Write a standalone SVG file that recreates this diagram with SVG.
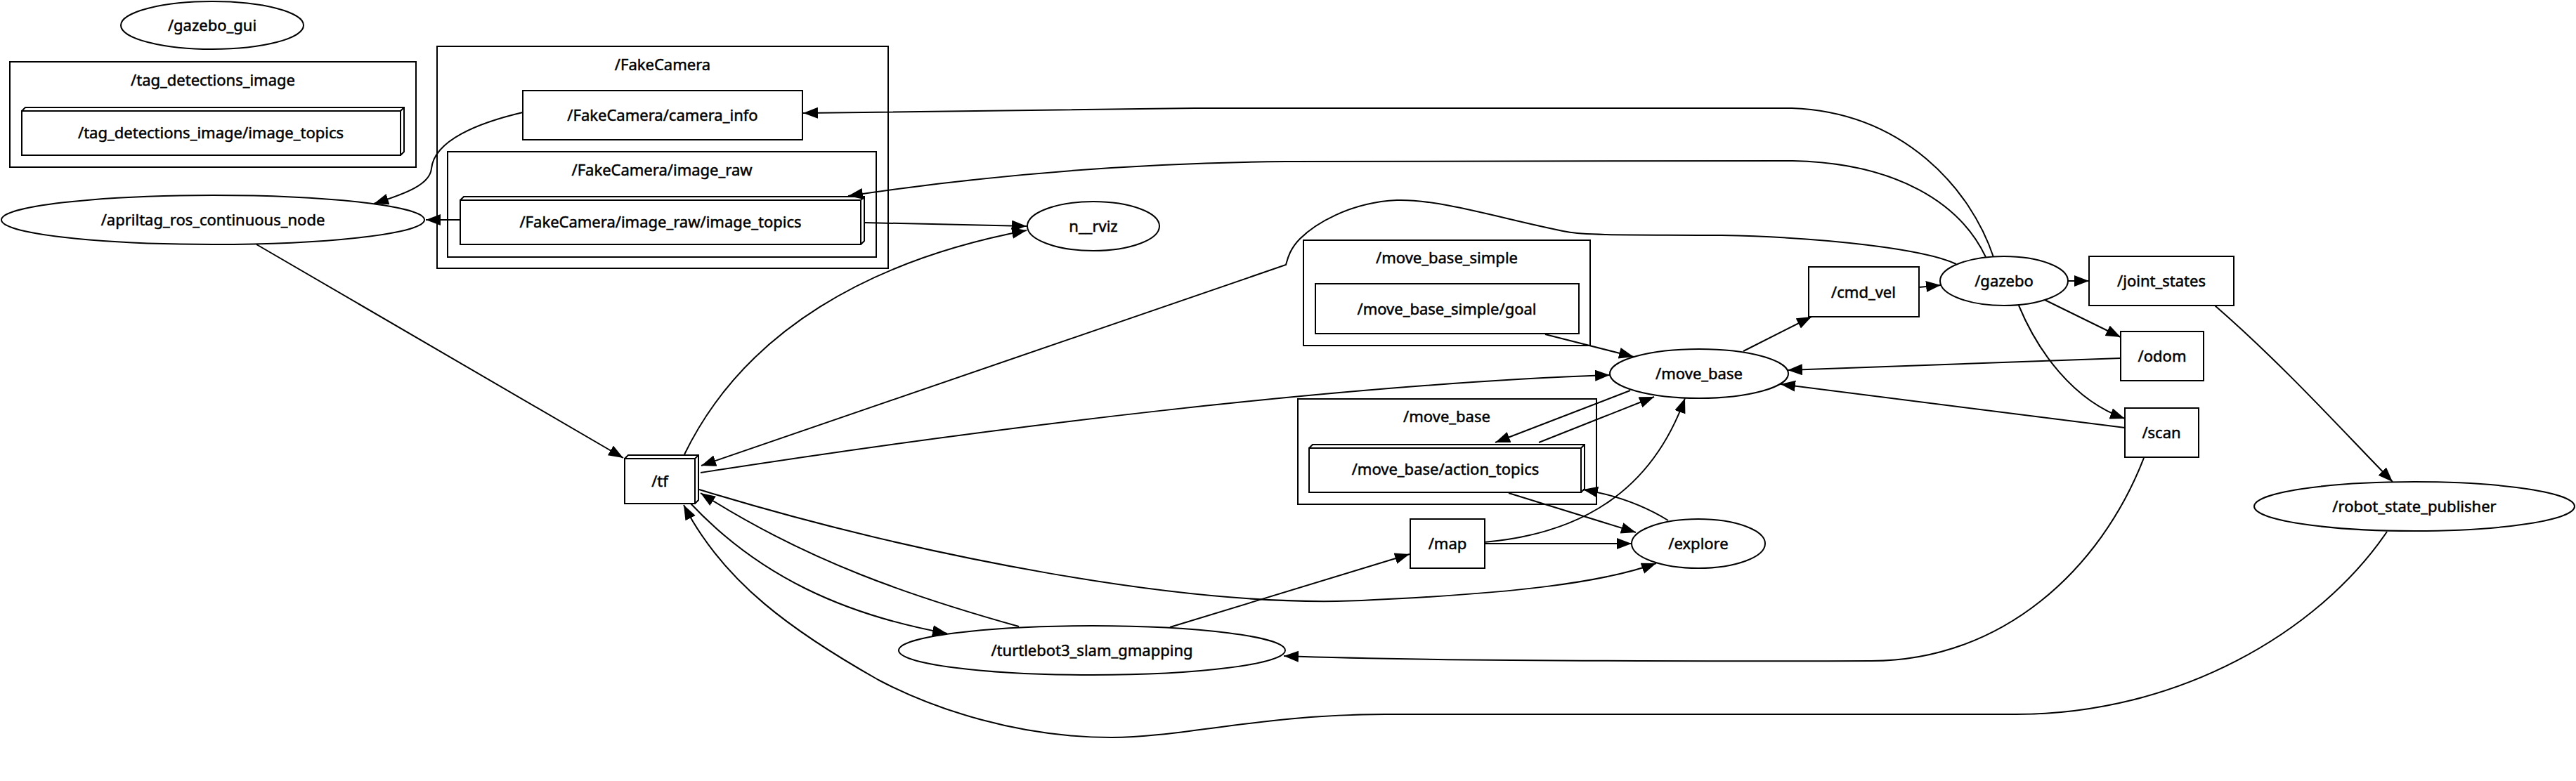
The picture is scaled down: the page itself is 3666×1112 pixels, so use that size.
<svg xmlns="http://www.w3.org/2000/svg" width="3666" height="1112" viewBox="0 0 3666 1112">
<style>
text{font-family:"Noto Sans","Liberation Sans",sans-serif;font-size:22px;fill:#000;stroke:#000;stroke-width:0.5;text-anchor:middle}
.n{fill:#fff;stroke:#000;stroke-width:2}
.cl{fill:none;stroke:#000;stroke-width:2}
.e{fill:none;stroke:#000;stroke-width:2;marker-end:url(#ah)}
.l{fill:none;stroke:#000;stroke-width:2}
</style>
<defs>
<marker id="ah" markerWidth="22" markerHeight="18" refX="21" refY="8" orient="auto" markerUnits="userSpaceOnUse">
<path d="M0,0 L21,8 L0,16 z" fill="#000"/>
</marker>
</defs>
<rect width="3666" height="1112" fill="#fff"/>
<g id="clusters">
<g id="cluster_tag_detections_image"><rect class="cl" x="14" y="88" width="578" height="150"/><text x="303" y="122">/tag_detections_image</text></g>
<g id="cluster_FakeCamera"><rect class="cl" x="622" y="66" width="642" height="316"/><text x="943" y="100">/FakeCamera</text></g>
<g id="cluster_FakeCamera_image_raw"><rect class="cl" x="637" y="216" width="610" height="150"/><text x="942" y="250">/FakeCamera/image_raw</text></g>
<g id="cluster_move_base_simple"><rect class="cl" x="1855" y="342" width="408" height="150"/><text x="2059" y="375">/move_base_simple</text></g>
<g id="cluster_move_base"><rect class="cl" x="1847" y="568" width="425" height="150"/><text x="2059" y="601">/move_base</text></g>
</g>
<g id="edges">
<path class="e" d="M744,160 C680,175 618,200 614,240 C612,262 580,275 532,290"/>
<path class="e" d="M655,313 L606,313"/>
<path class="e" d="M1230,317 L1461,322"/>
<path class="e" d="M2837,366 C2805,270 2710,160 2550,154 L1700,154 C1500,155 1300,159 1143,161"/>
<path class="e" d="M2826,366 C2790,290 2700,232 2551,229 L1830,230 C1600,232 1400,250 1207,279"/>
<path class="e" d="M365,348 L887,652"/>
<path class="e" d="M974,647 C1060,470 1240,370 1461,328"/>
<path class="e" d="M2784,376 C2740,355 2600,338 2450,335 C2350,334 2260,336 2230,330 C2150,315 2050,283 1988,285 C1920,288 1870,320 1850,340 C1835,355 1832,370 1830,377 L998,663"/>
<path class="e" d="M997,673 C1400,610 1900,548 2291,534"/>
<path class="e" d="M995,697 C1300,790 1700,870 1955,854 C2150,845 2280,830 2357,802"/>
<path class="e" d="M1450,892 C1300,850 1150,800 997,702"/>
<path class="e" d="M983,717 C1080,820 1200,875 1348,902"/>
<path class="e" d="M3397,757 C3300,900 3100,1017 2869,1017 L1971,1017 C1800,1017 1680,1050 1582,1050 C1450,1050 1330,1010 1250,968 C1130,900 1030,830 973,719"/>
<path class="e" d="M3051,652 C2990,810 2850,941 2663,941 C2300,942 2000,940 1827,934"/>
<path class="e" d="M1665,893 L2006,789"/>
<path class="e" d="M2112,774 L2322,774"/>
<path class="e" d="M2112,772 C2250,760 2350,700 2398,567"/>
<path class="e" d="M2199,476 L2325,508"/>
<path class="e" d="M2320,556 L2128,630"/>
<path class="e" d="M2190,630 L2354,565"/>
<path class="e" d="M2147,702 L2328,758"/>
<path class="e" d="M2374,741 C2340,720 2300,705 2253,697"/>
<path class="e" d="M2481,500 L2578,451"/>
<path class="e" d="M2731,409 L2762,406"/>
<path class="e" d="M2943,400 L2973,400"/>
<path class="e" d="M2910,427 L3018,480"/>
<path class="e" d="M2873,435 C2900,500 2950,570 3024,596"/>
<path class="e" d="M3018,510 L2544,527"/>
<path class="e" d="M3024,609 L2534,547"/>
<path class="e" d="M3152,435 C3250,520 3340,620 3405,686"/>
</g>
<g id="node_gazebo_gui"><ellipse class="n" cx="302" cy="36" rx="130" ry="34"/><text x="302" y="44">/gazebo_gui</text></g>
<g id="node_tag_detections_image_topics"><rect class="n" x="31" y="158" width="539" height="63"/><path class="l" d="M31,158 L36,153 L575,153 L575,216 L570,221 M570,158 L575,153"/><text x="300" y="197">/tag_detections_image/image_topics</text></g>
<g id="node_camera_info"><rect class="n" x="744" y="129" width="398" height="70"/><text x="943" y="172">/FakeCamera/camera_info</text></g>
<g id="node_image_raw_topics"><rect class="n" x="655" y="285" width="570" height="63"/><path class="l" d="M655,285 L660,280 L1230,280 L1230,343 L1225,348 M1225,285 L1230,280"/><text x="940" y="324">/FakeCamera/image_raw/image_topics</text></g>
<g id="node_apriltag"><ellipse class="n" cx="303" cy="313" rx="301" ry="35"/><text x="303" y="321">/apriltag_ros_continuous_node</text></g>
<g id="node_rviz"><ellipse class="n" cx="1556" cy="322" rx="94" ry="35"/><text x="1556" y="330">n__rviz</text></g>
<g id="node_tf"><rect class="n" x="889" y="653" width="100" height="64"/><path class="l" d="M889,653 L894,648 L994,648 L994,712 L989,717 M989,653 L994,648"/><text x="939" y="693">/tf</text></g>
<g id="node_goal"><rect class="n" x="1872" y="404" width="375" height="71"/><text x="2059" y="448">/move_base_simple/goal</text></g>
<g id="node_move_base"><ellipse class="n" cx="2418" cy="532" rx="127" ry="35"/><text x="2418" y="540">/move_base</text></g>
<g id="node_action_topics"><rect class="n" x="1863" y="638" width="387" height="63"/><path class="l" d="M1863,638 L1868,633 L2255,633 L2255,696 L2250,701 M2250,638 L2255,633"/><text x="2057" y="676">/move_base/action_topics</text></g>
<g id="node_map"><rect class="n" x="2007" y="739" width="106" height="70"/><text x="2060" y="782">/map</text></g>
<g id="node_explore"><ellipse class="n" cx="2417" cy="774" rx="95" ry="35"/><text x="2417" y="782">/explore</text></g>
<g id="node_gmapping"><ellipse class="n" cx="1554" cy="926" rx="275" ry="35"/><text x="1554" y="934">/turtlebot3_slam_gmapping</text></g>
<g id="node_cmd_vel"><rect class="n" x="2574" y="380" width="157" height="71"/><text x="2652" y="424">/cmd_vel</text></g>
<g id="node_gazebo"><ellipse class="n" cx="2852" cy="400" rx="91" ry="35"/><text x="2852" y="408">/gazebo</text></g>
<g id="node_joint_states"><rect class="n" x="2973" y="365" width="206" height="70"/><text x="3076" y="408">/joint_states</text></g>
<g id="node_odom"><rect class="n" x="3018" y="472" width="118" height="70"/><text x="3077" y="515">/odom</text></g>
<g id="node_scan"><rect class="n" x="3024" y="581" width="105" height="70"/><text x="3076" y="624">/scan</text></g>
<g id="node_robot_state_publisher"><ellipse class="n" cx="3436" cy="721" rx="228" ry="35"/><text x="3436" y="729">/robot_state_publisher</text></g>
</svg>
